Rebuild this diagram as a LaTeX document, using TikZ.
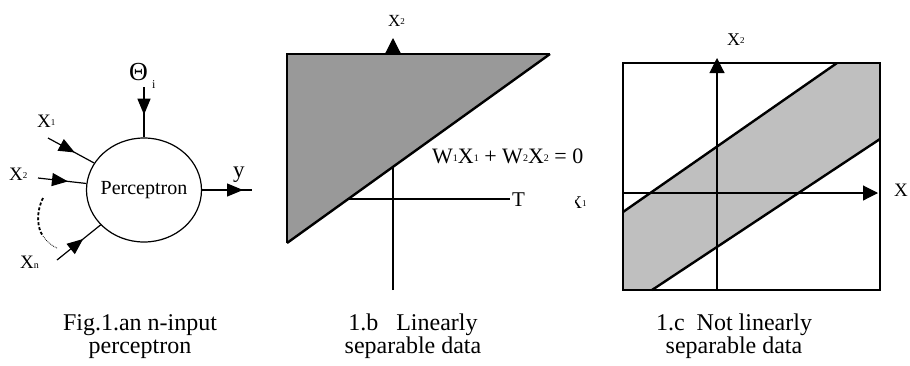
\documentclass[tikz,border=0pt]{standalone}
\usepackage{fontspec}
\setmainfont{Liberation Serif}
\usetikzlibrary{arrows.meta,decorations.markings,shapes.geometric}

\newcommand{\smallidx}[2][9]{\raisebox{1.5pt}{\fontsize{#1}{#1}\selectfont #2}}

\begin{document}
\begin{tikzpicture}[
    x=1pt,y=-1pt,
    lbl/.style={inner sep=0pt, anchor=base west, font=\fontsize{19}{19}\selectfont},
    figcap/.style={inner sep=0pt, anchor=base, align=center, font=\fontsize{24}{23}\selectfont},
    neuron/.style={draw, ellipse, line width=1.2pt, minimum width=115pt, minimum height=104pt,
      inner xsep=-10pt, inner ysep=0pt, font=\fontsize{20}{20}\selectfont},
    feed/.style={line width=1.2pt, postaction={decorate},
      decoration={markings, mark=at position #1 with {\arrow{Triangle[length=16pt,width=13pt]}}}},
    axarrow/.style={line width=1.1pt, -{Triangle[length=15pt,width=15pt]}},
    thinline/.style={line width=1.1pt},
    boundary/.style={line width=2.4pt}
  ]
    \useasboundingbox (0,0) rectangle (910,365);

    \node[neuron] (pcpt) at (144,190) {Perceptron};
    \coordinate (thetain) at (144,87);
    \coordinate (x1in) at (48,138);
    \coordinate (x2in) at (38,178);
    \coordinate (xnin) at (57,260);
    \coordinate (yout) at (252,190);
    \node[lbl, font=\fontsize{26}{26}\selectfont] (theta) at (129,80) {Θ};
    \node[lbl, font=\fontsize{12}{12}\selectfont] (thetaidx) at (152,88) {i};
    \node[lbl] (x1lbl) at (37,127) {X\smallidx{1}};
    \node[lbl] (x2lbl) at (9,180) {X\smallidx{2}};
    \node[lbl] (xnlbl) at (20,268) {X\smallidx[10]{\raisebox{-1.5pt}{n}}};
    \node[lbl, font=\fontsize{23}{23}\selectfont] (ylbl) at (233,177) {y};

    \draw[feed=0.55] (thetain) -- (pcpt.north);
    \draw[feed=0.58] (x1in) -- (pcpt);
    \draw[feed=0.62] (x2in) -- (pcpt);
    \draw[feed=0.6] (xnin) -- (pcpt);
    \draw[feed=0.82] (pcpt.east) -- (yout);
    \draw[line width=1.8pt, dash pattern=on 3pt off 2pt] (43,198) .. controls (36,212) and (37,228) .. (43,236);
    \draw[line width=0.8pt, densely dotted] (43,236) .. controls (47,242) and (52,246) .. (57,248);

    \draw[thinline] (287,199) -- (510,199);
    \draw[axarrow] (393,290) -- (393,38);
    \fill[black!40] (287,54) -- (550,54) -- (287,243) -- cycle;
    \draw[thinline] (287,243) -- (287,54) -- (550,54);
    \draw[boundary] (287,243) -- (550,54);
    \node[lbl, font=\fontsize{17}{17}\selectfont] (bx2) at (388,26) {X\smallidx[9]{2}};
    \node[lbl, font=\fontsize{22}{22}\selectfont] (bline) at (432,163)
      {W\smallidx[10]{1}X\smallidx[10]{1} + W\smallidx[10]{2}X\smallidx[10]{2} = 0};
    \node[lbl, font=\fontsize{21}{21}\selectfont] (bT) at (512,206) {T};
    \begin{scope}
      \clip (575,185) rectangle (600,215);
      \node[lbl, font=\fontsize{18}{18}\selectfont] (bx1) at (569,208) {X\smallidx{1}};
    \end{scope}

    \fill[black!25] (623,212) -- (837,63) -- (880,63) -- (880,139) -- (652,290) -- (623,290) -- cycle;
    \draw[thinline] (623,63) rectangle (880,290);
    \draw[axarrow] (717,290) -- (717,58);
    \draw[axarrow] (623,193) -- (878,193);
    \draw[boundary] (623,212) -- (837,63);
    \draw[boundary] (652,290) -- (880,139);
    \node[lbl, font=\fontsize{18}{18}\selectfont] (cx2) at (727,45) {X\smallidx{2}};
    \node[lbl, font=\fontsize{19}{19}\selectfont] (cx1) at (894,196) {X};

    \node[figcap] (capa) at (140,353) {Fig.1.an n-input\\perceptron};
    \node[figcap] (capb) at (413,353) {1.b\ \ \ Linearly\\separable data};
    \node[figcap] (capc) at (734,353) {1.c\ \ Not linearly\\separable data};
  \end{tikzpicture}
\end{document}
